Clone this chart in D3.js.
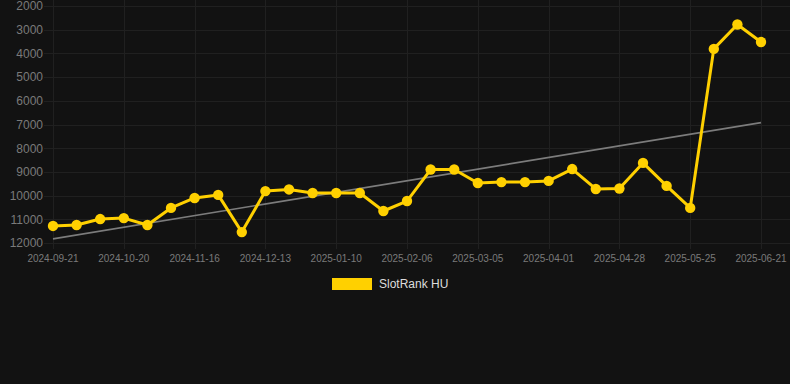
<!DOCTYPE html>
<html>
<head>
<meta charset="utf-8">
<script src="https://cdn.jsdelivr.net/npm/d3@7"></script>
<style>
  html, body { margin: 0; padding: 0; background: #121212; }
  svg { display: block; font-family: "Liberation Sans", Arial, sans-serif; }
</style>
</head>
<body>
<script>
const width = 790;
const height = 384;

// dates on the category axis (every third one gets a label)
const dates = [
  '2024-09-21', '2024-10-01', '2024-10-10', '2024-10-20', '2024-10-29', '2024-11-07',
  '2024-11-16', '2024-11-25', '2024-12-04', '2024-12-13', '2024-12-22', '2025-01-01',
  '2025-01-10', '2025-01-19', '2025-01-28', '2025-02-06', '2025-02-15', '2025-02-24',
  '2025-03-05', '2025-03-14', '2025-03-23', '2025-04-01', '2025-04-10', '2025-04-19',
  '2025-04-28', '2025-05-07', '2025-05-16', '2025-05-25', '2025-06-03', '2025-06-12',
  '2025-06-21'
];
const ranks = [
  11280, 11240, 10990, 10950, 11240, 10520,
  10100, 9970, 11540, 9810, 9740, 9890,
  9890, 9890, 10650, 10230, 8900, 8900,
  9470, 9430, 9430, 9380, 8880, 9720,
  9700, 8620, 9590, 10520, 3810, 2780,
  3520
];
const yTicks = [2000, 3000, 4000, 5000, 6000, 7000, 8000, 9000, 10000, 11000, 12000];
const seriesName = 'SlotRank HU';

const svg = d3.select('body').append('svg')
  .attr('width', width)
  .attr('height', height);

const x = d3.scalePoint().domain(dates).range([53, 761]);
const y = d3.scaleLinear().domain([2000, 12000]).range([6, 243]);

const labelled = dates.filter((d, i) => i % 3 === 0);

// grid
svg.append('g')
  .selectAll('line')
  .data(yTicks)
  .join('line')
  .attr('x1', 44).attr('x2', width)
  .attr('y1', (d) => Math.round(y(d)) + 0.5).attr('y2', (d) => Math.round(y(d)) + 0.5)
  .attr('stroke', '#202020');

svg.append('g')
  .selectAll('line')
  .data(labelled)
  .join('line')
  .attr('x1', (d) => Math.round(x(d)) + 0.5).attr('x2', (d) => Math.round(x(d)) + 0.5)
  .attr('y1', 0).attr('y2', 249)
  .attr('stroke', '#202020');

// y axis labels
svg.append('g')
  .selectAll('text')
  .data(yTicks)
  .join('text')
  .attr('x', 43)
  .attr('y', (d) => y(d))
  .attr('dy', '0.36em')
  .attr('text-anchor', 'end')
  .attr('font-size', 12)
  .attr('fill', '#7a7a7a')
  .text((d) => d);

// x axis labels
svg.append('g')
  .selectAll('text')
  .data(labelled)
  .join('text')
  .attr('x', (d) => x(d))
  .attr('y', 258)
  .attr('dy', '0.36em')
  .attr('text-anchor', 'middle')
  .attr('font-size', 10)
  .attr('fill', '#7a7a7a')
  .text((d) => d);

// trend line (least squares over the index)
const n = ranks.length;
const mx = d3.mean(ranks, (d, i) => i);
const my = d3.mean(ranks);
const slope = d3.sum(ranks, (d, i) => (i - mx) * (d - my)) / d3.sum(ranks, (d, i) => (i - mx) * (i - mx));
const icpt = my - slope * mx;

svg.append('line')
  .attr('x1', x(dates[0])).attr('y1', y(icpt))
  .attr('x2', x(dates[n - 1])).attr('y2', y(icpt + slope * (n - 1)))
  .attr('stroke', '#7c7c7c')
  .attr('stroke-width', 1.6);

// series
const line = d3.line()
  .x((d, i) => x(dates[i]))
  .y((d) => y(d));

svg.append('path')
  .datum(ranks)
  .attr('d', line)
  .attr('fill', 'none')
  .attr('stroke', '#ffd000')
  .attr('stroke-width', 3)
  .attr('stroke-linejoin', 'round');

svg.append('g')
  .selectAll('circle')
  .data(ranks)
  .join('circle')
  .attr('cx', (d, i) => x(dates[i]))
  .attr('cy', (d) => y(d))
  .attr('r', 5.2)
  .attr('fill', '#ffd000');

// legend
const legend = svg.append('g').attr('transform', 'translate(332,278)');
legend.append('rect')
  .attr('width', 40).attr('height', 12)
  .attr('fill', '#ffd000');
legend.append('text')
  .attr('x', 47).attr('y', 6)
  .attr('dy', '0.36em')
  .attr('font-size', 12)
  .attr('fill', '#dddddd')
  .text(seriesName);
</script>
</body>
</html>
